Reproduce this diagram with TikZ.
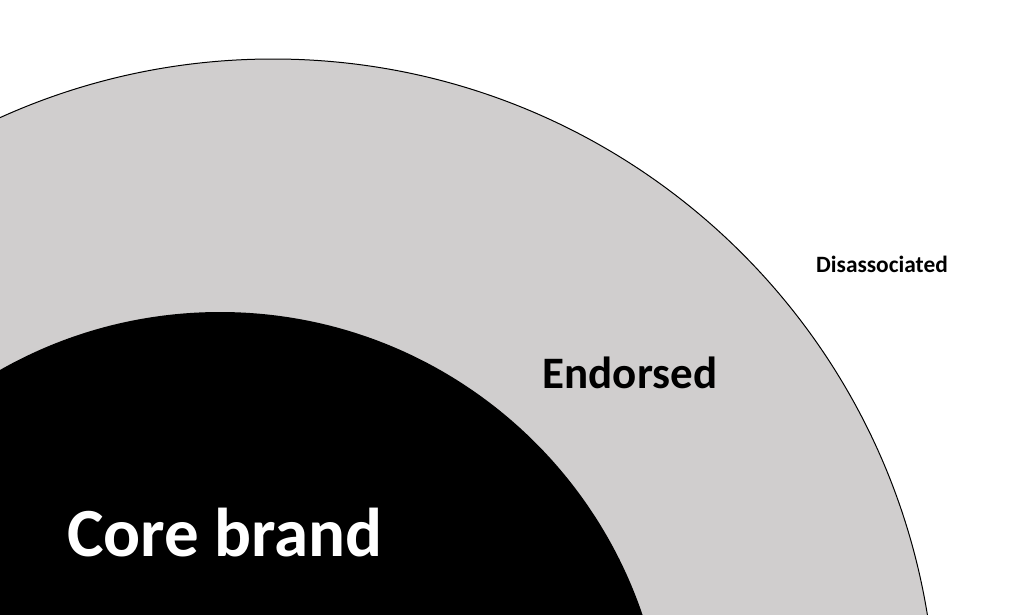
\documentclass[tikz,border=0pt]{standalone}
\usepackage{fontspec}
\setsansfont{Carlito}
\usetikzlibrary{positioning}
\definecolor{ringgray}{HTML}{D0CECE}

\begin{document}
\begin{tikzpicture}[x=1pt, y=-1pt, font=\sffamily\bfseries]

% Page frame
\useasboundingbox (0,0) rectangle (1024,614);
\clip (0,0) rectangle (1024,614);

% Outer ring (endorsed)
\filldraw[fill=ringgray, draw=black, line width=1pt] (273,722) circle[radius=663pt];

% Inner disc (core brand)
\fill[black] (220,758) circle[radius=446pt];

% Label styles
\tikzset{
  ringlbl/.style={anchor=base, inner sep=0pt},
  lblBig/.style={ringlbl, white, font=\sffamily\bfseries\fontsize{69}{80}\selectfont},
  lblMid/.style={ringlbl, black, font=\sffamily\bfseries\fontsize{45}{52}\selectfont},
  lblSmall/.style={ringlbl, black, font=\sffamily\bfseries\fontsize{23.4}{28}\selectfont}
}

% -- Labels --
\node[lblBig] (core) at (225,556) {Core brand};
\node[lblMid] (endorsed) at (630,388) {Endorsed};
\node[lblSmall] (disassoc) at (882,272) {Disassociated};

\end{tikzpicture}
\end{document}
